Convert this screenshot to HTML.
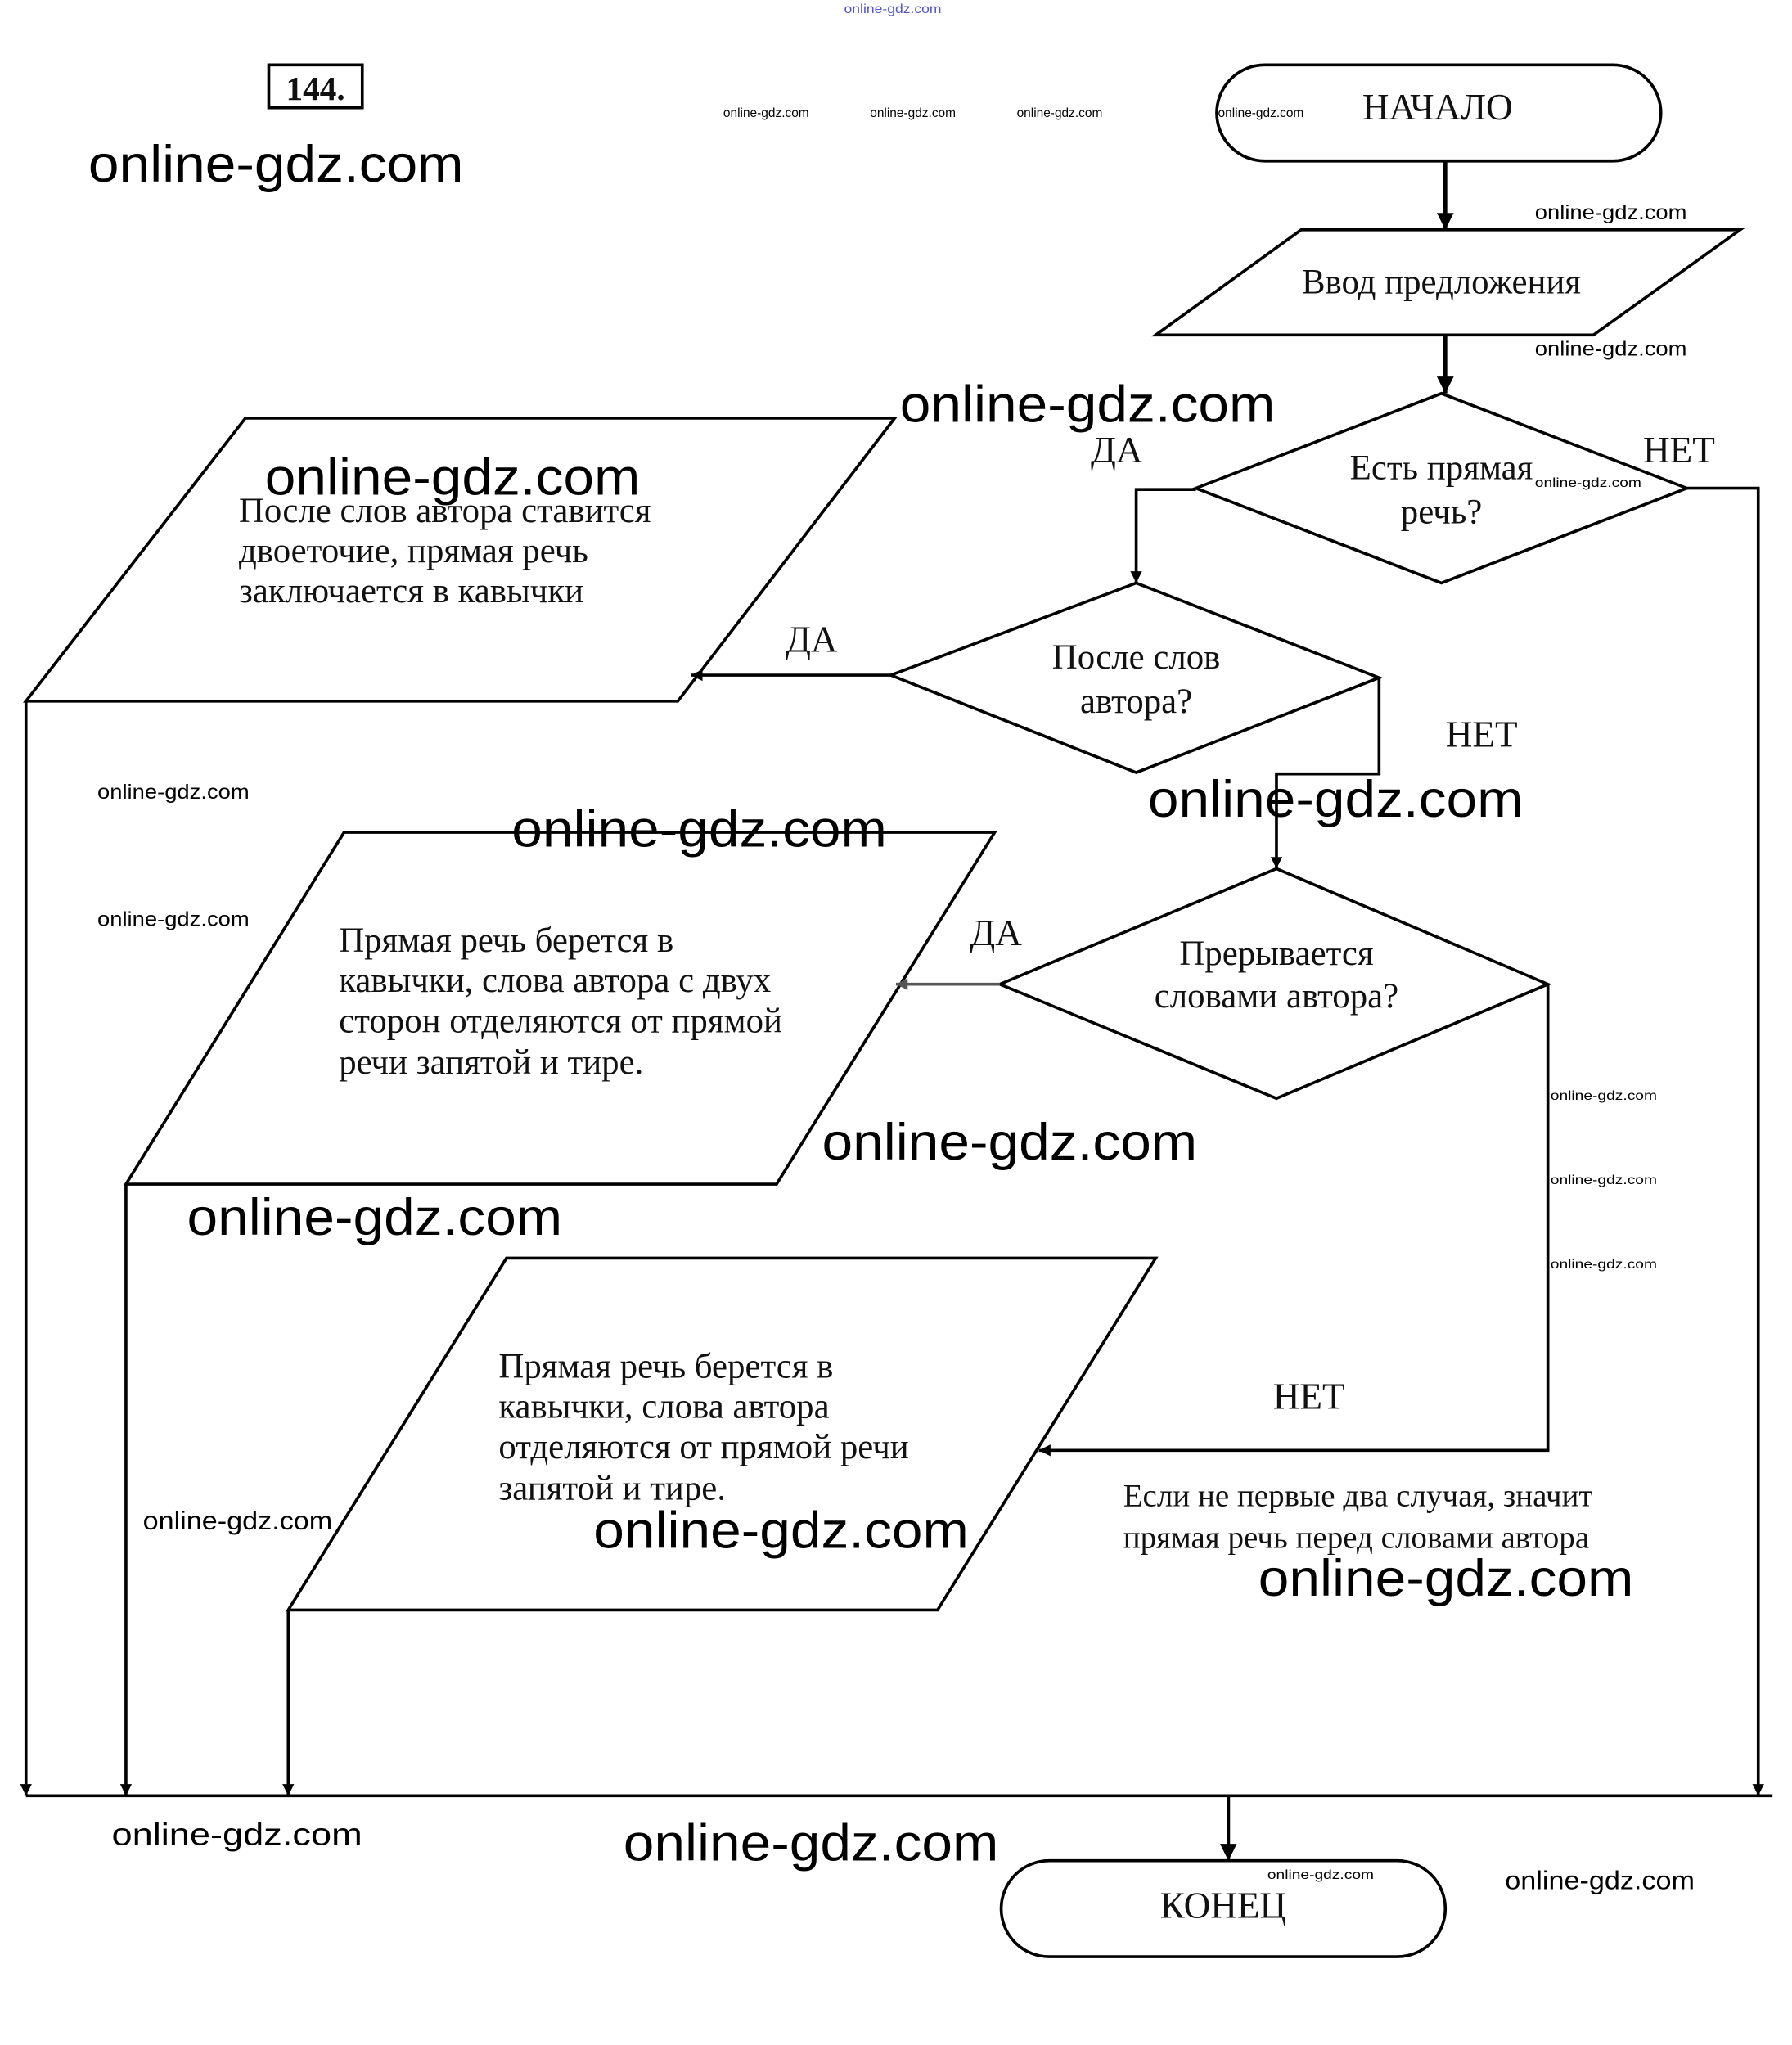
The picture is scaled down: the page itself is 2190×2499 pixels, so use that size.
<!DOCTYPE html>
<html><head><meta charset="utf-8"><style>
html,body{margin:0;padding:0;background:#fff;}
svg{display:block;}
.s{font-family:"Liberation Serif",serif;fill:#111;}
.w{font-family:"Liberation Sans",sans-serif;fill:#000;}
</style></head><body>
<svg width="2190" height="2499" viewBox="0 0 1380 1575" preserveAspectRatio="none" xmlns="http://www.w3.org/2000/svg">
<defs>
<marker id="a" viewBox="0 0 10 10" refX="10" refY="5" markerWidth="11" markerHeight="9" orient="auto" markerUnits="userSpaceOnUse">
<path d="M0,0 L10,5 L0,10 z" fill="#000"/></marker>
<marker id="g" viewBox="0 0 10 10" refX="10" refY="5" markerWidth="11" markerHeight="9" orient="auto" markerUnits="userSpaceOnUse">
<path d="M0,0 L10,5 L0,10 z" fill="#555"/></marker>
<marker id="b" viewBox="0 0 10 10" refX="10" refY="5" markerWidth="14" markerHeight="13" orient="auto" markerUnits="userSpaceOnUse">
<path d="M0,0 L10,5 L0,10 z" fill="#000"/></marker>
</defs>
<g fill="none" stroke="#000" stroke-width="2.3">
<rect x="207" y="50" width="72" height="33"/>
<rect x="937" y="50" width="342" height="74" rx="37" ry="37"/>
<polygon points="1002,177 1340,177 1227,258 890,258"/>
<polygon points="1110,303 1299,376 1110,449 921,376"/>
<polygon points="875,449 1062,522 875,595 686,520"/>
<polygon points="983,669 1192,758 983,846 770,758"/>
<polygon points="189,322 689,322 522,540 20,540"/>
<polygon points="265,641 766,641 598,912 97,912"/>
<polygon points="390,969 890,969 722,1240 222,1240"/>
<rect x="771" y="1433" width="342" height="74" rx="37" ry="37"/>
<line x1="1113" y1="124" x2="1113" y2="177" stroke-width="3" marker-end="url(#b)"/>
<line x1="1113" y1="258" x2="1113" y2="303" stroke-width="3" marker-end="url(#b)"/>
<polyline points="1299,376 1354,376 1354,1383" marker-end="url(#a)"/>
<polyline points="921,377 875,377 875,449" marker-end="url(#a)"/>
<line x1="686" y1="520" x2="532" y2="520" marker-end="url(#a)"/>
<polyline points="1062,522 1062,596 983,596 983,669" marker-end="url(#a)"/>
<line x1="770" y1="758" x2="690" y2="758" stroke="#555" marker-end="url(#g)"/>
<polyline points="1192,758 1192,1117 800,1117" marker-end="url(#a)"/>
<line x1="20" y1="540" x2="20" y2="1383" marker-end="url(#a)"/>
<line x1="97" y1="912" x2="97" y2="1383" marker-end="url(#a)"/>
<line x1="222" y1="1240" x2="222" y2="1383" marker-end="url(#a)"/>
<line x1="20" y1="1383" x2="1365" y2="1383"/>
<line x1="946" y1="1383" x2="946" y2="1433" stroke-width="2.5" marker-end="url(#b)"/>
</g>
<g class="s">
<text x="243" y="77" font-size="26" font-weight="bold" text-anchor="middle">144.</text>
<text x="1107" y="92" font-size="28.5" text-anchor="middle">НАЧАЛО</text>
<text x="1110" y="226" font-size="27" text-anchor="middle">Ввод предложения</text>
<text x="1110" y="369" font-size="27" text-anchor="middle">Есть прямая</text>
<text x="1110" y="403" font-size="27" text-anchor="middle">речь?</text>
<text x="1293" y="356" font-size="28.5" text-anchor="middle">НЕТ</text>
<text x="860" y="356" font-size="28.5" text-anchor="middle">ДА</text>
<text x="875" y="515" font-size="27" text-anchor="middle">После слов</text>
<text x="875" y="549" font-size="27" text-anchor="middle">автора?</text>
<text x="625" y="502" font-size="28.5" text-anchor="middle">ДА</text>
<text x="1141" y="575" font-size="28.5" text-anchor="middle">НЕТ</text>
<text x="983" y="743" font-size="27" text-anchor="middle">Прерывается</text>
<text x="983" y="776" font-size="27" text-anchor="middle">словами автора?</text>
<text x="767" y="728" font-size="28.5" text-anchor="middle">ДА</text>
<text x="1008" y="1085" font-size="28.5" text-anchor="middle">НЕТ</text>
<g font-size="27">
<text x="184" y="402">После слов автора ставится</text>
<text x="184" y="433">двоеточие, прямая речь</text>
<text x="184" y="464">заключается в кавычки</text>
<text x="261" y="733">Прямая речь берется в</text>
<text x="261" y="764">кавычки, слова автора с двух</text>
<text x="261" y="795">сторон отделяются от прямой</text>
<text x="261" y="827">речи запятой и тире.</text>
<text x="384" y="1061">Прямая речь берется в</text>
<text x="384" y="1092">кавычки, слова автора</text>
<text x="384" y="1123">отделяются от прямой речи</text>
<text x="384" y="1155">запятой и тире.</text>
</g>
<text x="865" y="1160" font-size="24.6">Если не первые два случая, значит</text>
<text x="865" y="1192" font-size="24.6">прямая речь перед словами автора</text>
<text x="942" y="1477" font-size="28.5" text-anchor="middle">КОНЕЦ</text>
</g>
<g class="w">
<text x="68" y="140" font-size="40" textLength="289" lengthAdjust="spacingAndGlyphs">online-gdz.com</text>
<text x="693" y="325" font-size="40" textLength="289" lengthAdjust="spacingAndGlyphs">online-gdz.com</text>
<text x="204" y="381" font-size="40" textLength="289" lengthAdjust="spacingAndGlyphs">online-gdz.com</text>
<text x="884" y="629" font-size="40" textLength="289" lengthAdjust="spacingAndGlyphs">online-gdz.com</text>
<text x="394" y="652" font-size="40" textLength="289" lengthAdjust="spacingAndGlyphs">online-gdz.com</text>
<text x="633" y="893" font-size="40" textLength="289" lengthAdjust="spacingAndGlyphs">online-gdz.com</text>
<text x="144" y="951" font-size="40" textLength="289" lengthAdjust="spacingAndGlyphs">online-gdz.com</text>
<text x="457" y="1192" font-size="40" textLength="289" lengthAdjust="spacingAndGlyphs">online-gdz.com</text>
<text x="969" y="1229" font-size="40" textLength="289" lengthAdjust="spacingAndGlyphs">online-gdz.com</text>
<text x="480" y="1433" font-size="40" textLength="289" lengthAdjust="spacingAndGlyphs">online-gdz.com</text>
<g font-size="16">
<text x="1182" y="169" textLength="117" lengthAdjust="spacingAndGlyphs">online-gdz.com</text>
<text x="1182" y="274" textLength="117" lengthAdjust="spacingAndGlyphs">online-gdz.com</text>
<text x="75" y="615" textLength="117" lengthAdjust="spacingAndGlyphs">online-gdz.com</text>
<text x="75" y="713" textLength="117" lengthAdjust="spacingAndGlyphs">online-gdz.com</text>
</g>
<text x="110" y="1178" font-size="20" textLength="146" lengthAdjust="spacingAndGlyphs">online-gdz.com</text>
<text x="86" y="1421" font-size="24" textLength="193" lengthAdjust="spacingAndGlyphs">online-gdz.com</text>
<text x="1159" y="1455" font-size="20" textLength="146" lengthAdjust="spacingAndGlyphs">online-gdz.com</text>
<g font-size="10">
<text x="557" y="90" textLength="66" lengthAdjust="spacingAndGlyphs">online-gdz.com</text>
<text x="670" y="90" textLength="66" lengthAdjust="spacingAndGlyphs">online-gdz.com</text>
<text x="783" y="90" textLength="66" lengthAdjust="spacingAndGlyphs">online-gdz.com</text>
<text x="938" y="90" textLength="66" lengthAdjust="spacingAndGlyphs">online-gdz.com</text>
<text x="1182" y="375" textLength="82" lengthAdjust="spacingAndGlyphs">online-gdz.com</text>
<text x="1194" y="847" textLength="82" lengthAdjust="spacingAndGlyphs">online-gdz.com</text>
<text x="1194" y="912" textLength="82" lengthAdjust="spacingAndGlyphs">online-gdz.com</text>
<text x="1194" y="977" textLength="82" lengthAdjust="spacingAndGlyphs">online-gdz.com</text>
<text x="976" y="1447" textLength="82" lengthAdjust="spacingAndGlyphs">online-gdz.com</text>
<text x="650" y="10" fill="#55c" textLength="75" lengthAdjust="spacingAndGlyphs">online-gdz.com</text>
</g>
</g>
</svg>
</body></html>
